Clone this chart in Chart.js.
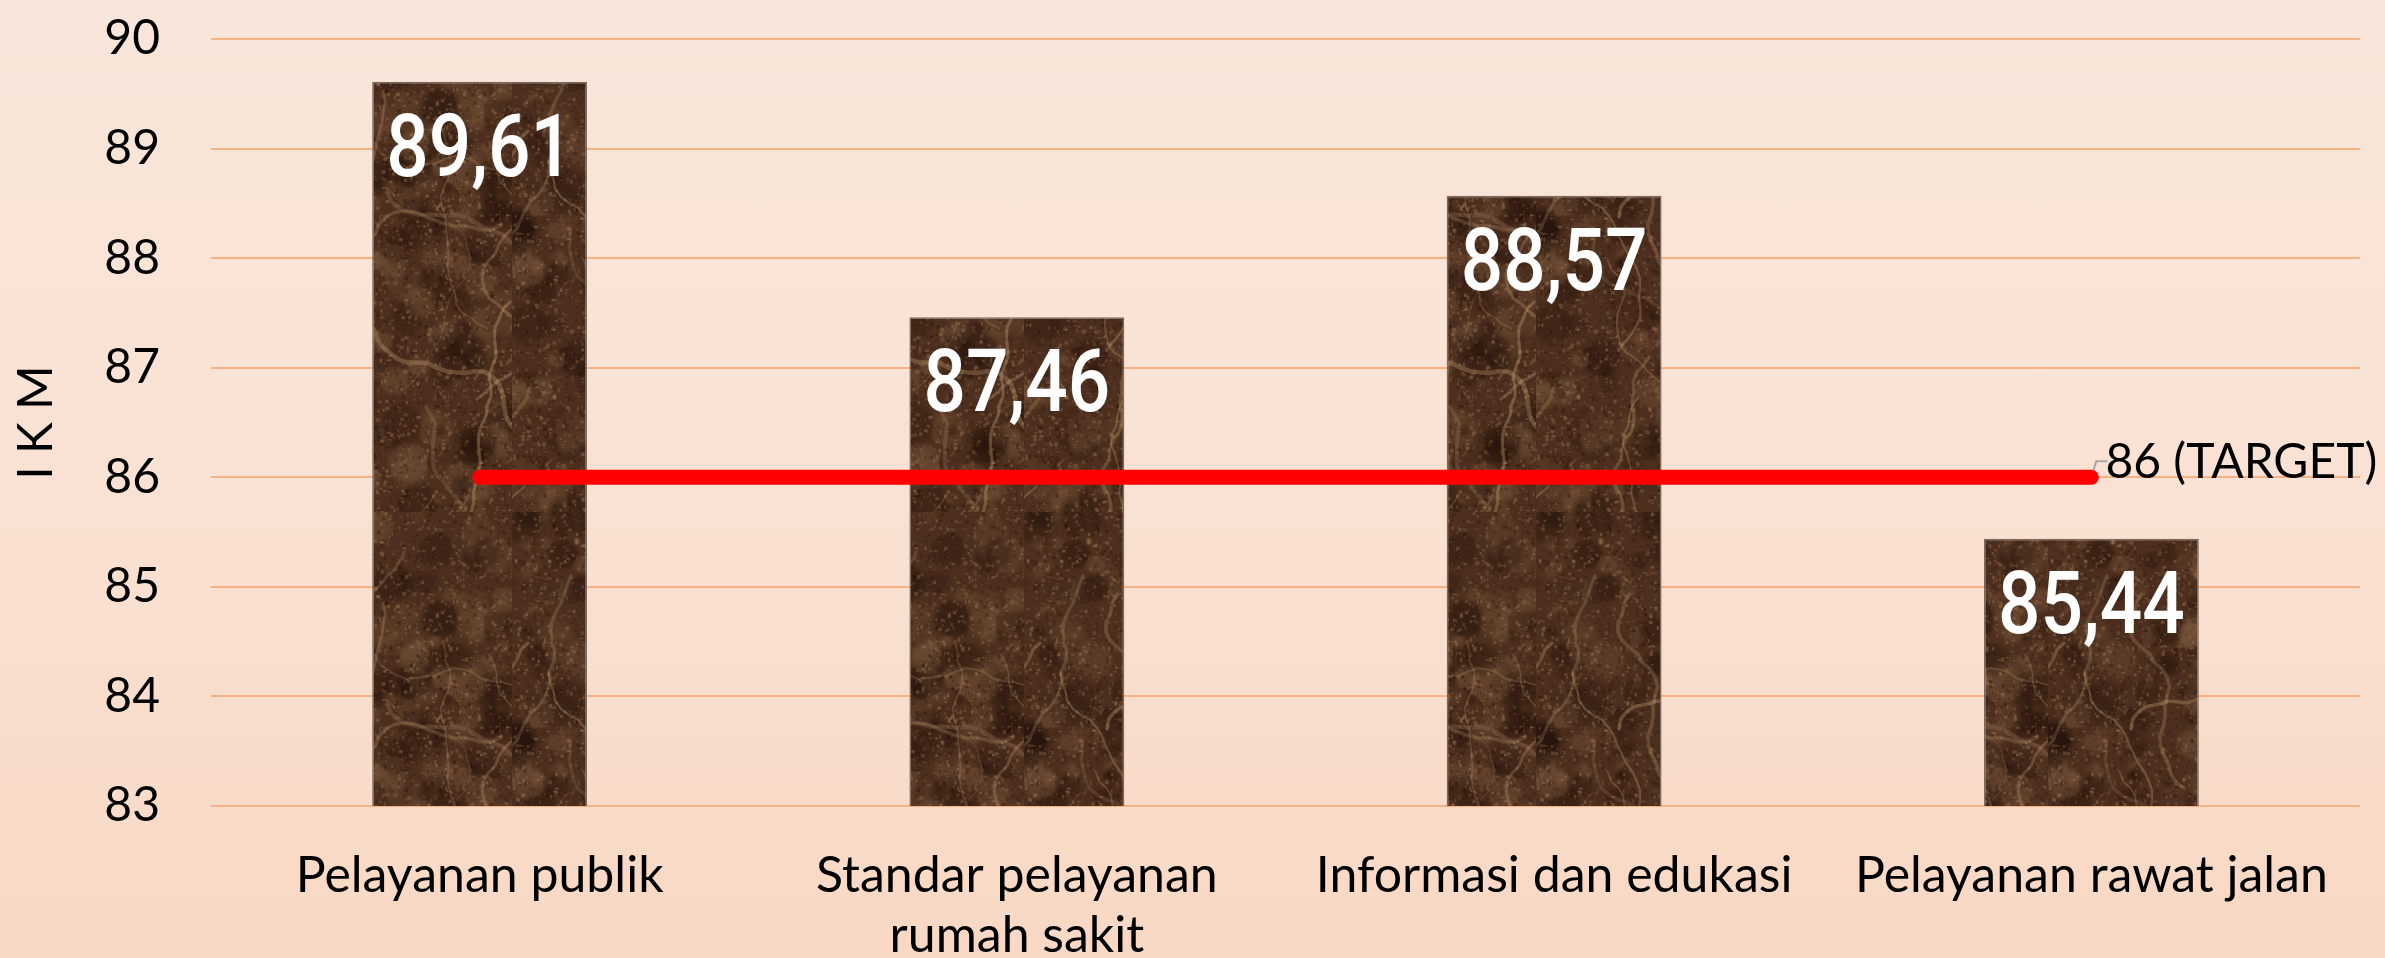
<!DOCTYPE html>
<html>
<head>
<meta charset="utf-8">
<script src="https://cdn.jsdelivr.net/npm/chart.js@4.4.1/dist/chart.umd.min.js"></script>
<style>
  html, body { margin: 0; padding: 0; }
  body {
    width: 2385px;
    height: 958px;
    overflow: hidden;
    background: linear-gradient(to bottom, #f9e6da 0%, #f9e2d4 50%, #f8d8c4 100%);
  }
  canvas { display: block; }
</style>
</head>
<body>
<canvas id="myChart" width="2385" height="958"></canvas>
<script>
const categories = [
  'Pelayanan publik',
  ['Standar pelayanan', 'rumah sakit'],
  'Informasi dan edukasi',
  'Pelayanan rawat jalan',
]
const ikmValues = [89.61, 87.46, 88.57, 85.44]
const targetValues = [86, 86, 86, 86]
const targetLabel = '86 (TARGET)'
const yTicks = { min: 83, max: 90, step: 1 }

// brown marble texture for the bars (seeded so every render looks the same)
function marblePattern(w, h) {
  let seed = 12345
  const rnd = () => (seed = (seed * 16807) % 2147483647) / 2147483647

  // coarse layer drawn small and scaled up, so it comes out soft
  const small = document.createElement('canvas')
  small.width = w / 4
  small.height = h / 4
  const s = small.getContext('2d')
  s.fillStyle = '#4d2f1f'
  s.fillRect(0, 0, small.width, small.height)
  for (let i = 0; i < 500; i++) {
    const x = rnd() * small.width
    const y = rnd() * small.height
    const r = 1 + rnd() * 4
    s.fillStyle =
      rnd() > 0.5
        ? `rgba(132,96,66,${0.15 + rnd() * 0.25})`
        : `rgba(30,14,8,${0.15 + rnd() * 0.25})`
    s.beginPath()
    s.arc(x, y, r, 0, Math.PI * 2)
    s.fill()
  }

  const c = document.createElement('canvas')
  c.width = w
  c.height = h
  const g = c.getContext('2d')
  g.imageSmoothingEnabled = true
  g.drawImage(small, 0, 0, w, h)

  // mottled grain
  for (let i = 0; i < 11000; i++) {
    const x = rnd() * w
    const y = rnd() * h
    g.fillStyle =
      rnd() > 0.5
        ? `rgba(178,138,98,${0.12 + rnd() * 0.25})`
        : `rgba(30,13,6,${0.1 + rnd() * 0.22})`
    g.fillRect(x, y, 1 + rnd() * 3, 1 + rnd() * 3)
  }
  // light veins
  g.lineCap = 'round'
  for (let i = 0; i < 40; i++) {
    let x = rnd() * w
    let y = rnd() * h
    g.strokeStyle = `rgba(200,162,118,${0.15 + rnd() * 0.22})`
    g.lineWidth = 1.5 + rnd() * 3
    g.beginPath()
    g.moveTo(x, y)
    let ang = Math.PI / 2 + (rnd() - 0.5) * 1.6
    for (let k = 0; k < 22; k++) {
      ang += (rnd() - 0.5) * 1.0
      x += Math.cos(ang) * 10
      y += Math.sin(ang) * 10
      g.lineTo(x, y)
    }
    g.stroke()
  }
  return g.createPattern(c, 'repeat')
}

const barLabels = {
  id: 'barValueLabels',
  afterDatasetsDraw(chart) {
    const { ctx } = chart
    const meta = chart.getDatasetMeta(1)
    ctx.save()
    ctx.fillStyle = '#ffffff'
    ctx.font = '500 88px Roboto'
    ctx.textAlign = 'center'
    ctx.textBaseline = 'middle'
    meta.data.forEach((bar, i) => {
      const txt = ikmValues[i].toFixed(2).replace('.', ',')
      ctx.save()
      ctx.translate(bar.x, bar.y + 72)
      ctx.scale(0.85, 1)
      ctx.fillText(txt, 0, 0)
      ctx.restore()
    })

    // target label with small leader line
    const line = chart.getDatasetMeta(0).data
    const last = line[line.length - 1]
    ctx.strokeStyle = '#a6a6a6'
    ctx.lineWidth = 2
    ctx.beginPath()
    ctx.moveTo(last.x + 2, last.y - 7)
    ctx.lineTo(last.x + 5, last.y - 16)
    ctx.lineTo(last.x + 16, last.y - 16)
    ctx.stroke()
    ctx.fillStyle = '#000000'
    ctx.font = '48px Lato'
    ctx.textAlign = 'left'
    ctx.fillText(targetLabel, last.x + 14, last.y - 15)
    ctx.restore()
  },
}

const ctx = document.getElementById('myChart').getContext('2d')
const marble = marblePattern(512, 512)

new Chart(ctx, {
  data: {
    labels: categories,
    datasets: [
      {
        type: 'line',
        label: 'Target',
        data: targetValues,
        borderColor: '#ff0000',
        borderWidth: 15,
        borderCapStyle: 'round',
        pointRadius: 0,
        order: 0,
      },
      {
        type: 'bar',
        label: 'IKM',
        data: ikmValues,
        backgroundColor: marble,
        borderColor: 'rgba(110,92,82,0.9)',
        borderWidth: 1.5,
        borderSkipped: false,
        categoryPercentage: 1,
        barPercentage: 0.4,
        order: 1,
      },
    ],
  },
  options: {
    responsive: false,
    animation: false,
    layout: {
      padding: { left: 0, right: 25, top: 39, bottom: 0 },
    },
    plugins: {
      legend: { display: false },
      tooltip: { enabled: false },
    },
    scales: {
      x: {
        grid: { display: false, drawTicks: false },
        border: { display: false },
        ticks: {
          color: '#000000',
          font: { family: 'Lato', size: 50, lineHeight: 1.2 },
          padding: 40,
          maxRotation: 0,
          autoSkip: false,
        },
        afterFit(scale) {
          scale.height = 152
        },
      },
      y: {
        min: yTicks.min,
        max: yTicks.max,
        grid: { color: '#f6b283', lineWidth: 2, drawTicks: false },
        border: { display: false },
        ticks: {
          stepSize: yTicks.step,
          color: '#000000',
          font: { family: 'Lato', size: 48 },
          padding: 51,
        },
        title: {
          display: true,
          text: 'I K M',
          color: '#000000',
          font: { family: 'Lato', size: 48 },
          padding: { top: 8, bottom: 0 },
        },
        afterFit(scale) {
          scale.width = 211
          scale.paddingTop = 0
          scale.paddingBottom = 0
        },
      },
    },
  },
  plugins: [barLabels],
})
</script>
</body>
</html>
